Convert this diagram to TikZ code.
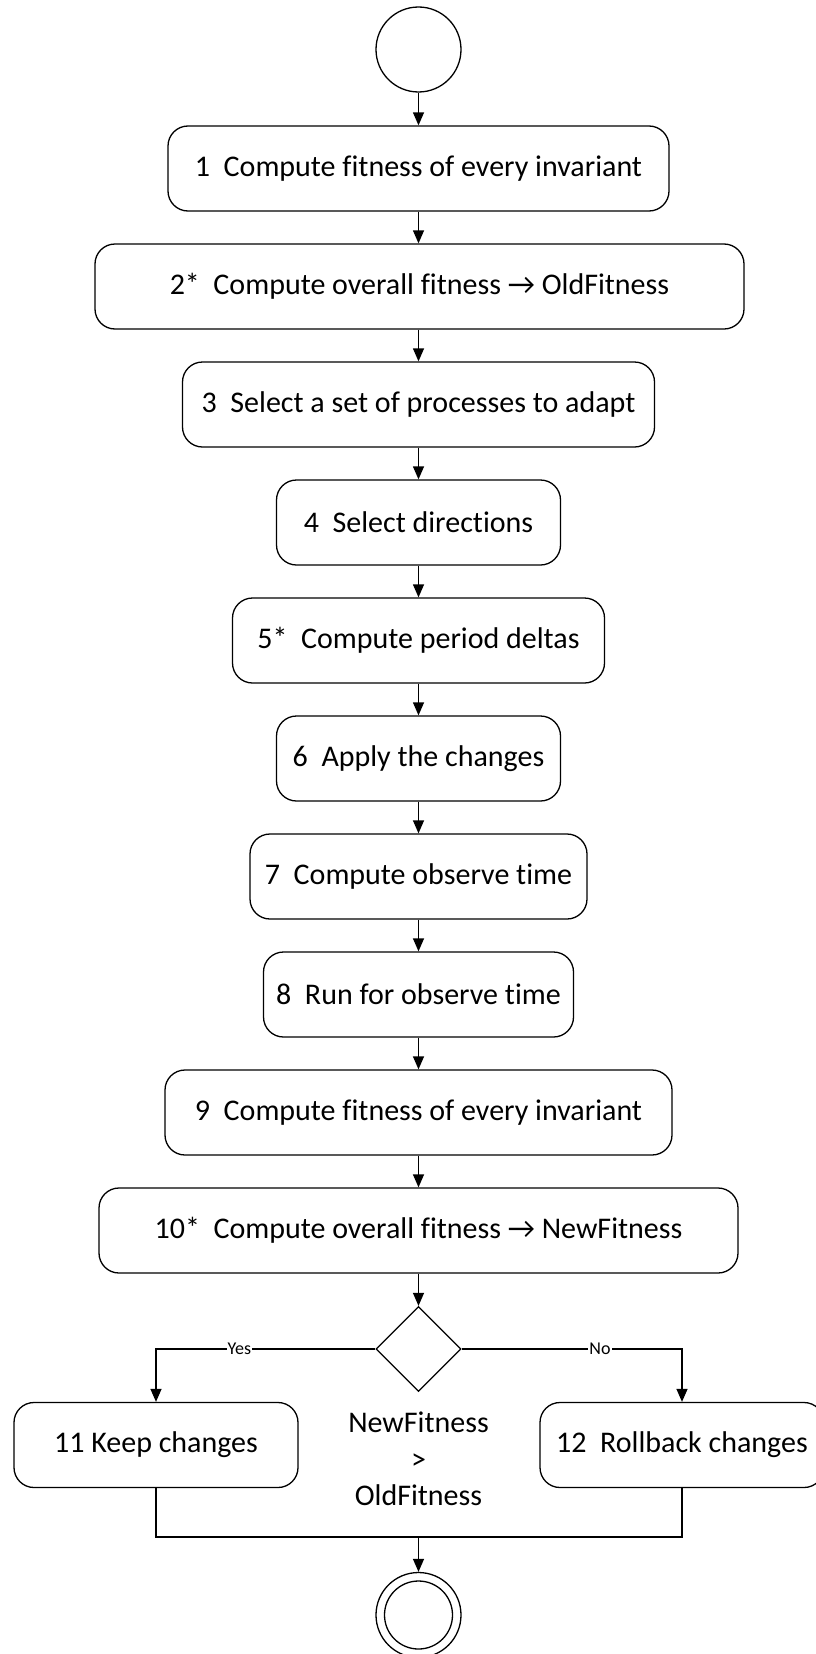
\documentclass[tikz,border=0pt]{standalone}
\usepackage{fontspec}
\setmainfont{Carlito}[RawFeature={-liga;-clig;-calt;-dlig}]
\usetikzlibrary{arrows.meta,shapes.geometric}
\begin{document}
\begin{tikzpicture}[x=1pt,y=-1pt,
  every node/.style={font=\fontsize{30}{36}\selectfont},
  stepbox/.style={draw,line width=1.3pt,rectangle,rounded corners=20pt,
    minimum height=85pt,inner sep=0pt},
  arr/.style={line width=1.3pt,-{Triangle[length=13pt,width=11pt]}},
  line/.style={line width=1.3pt},
  lbl/.style={fill=white,inner sep=1pt,font=\fontsize{18}{20}\selectfont}]
\useasboundingbox (0,0) rectangle (816,1654);
\fill[white] (0,0) rectangle (816,1654);

% start
\node[draw,circle,line width=1.3pt,minimum size=85pt,inner sep=0pt] (start) at (418.5,49.5) {};

% process steps
\node[stepbox,minimum width=501pt] (b1) at (418.5,168.5) {1\ \ Compute fitness of every invariant};
\node[stepbox,minimum width=649pt] (b2) at (419.5,286.5) {2*\ \ Compute overall fitness → OldFitness};
\node[stepbox,minimum width=472pt] (b3) at (418.5,404.5) {3\ \ Select a set of processes to adapt};
\node[stepbox,minimum width=284pt] (b4) at (418.5,522.5) {4\ \ Select directions};
\node[stepbox,minimum width=372pt] (b5) at (418.5,640.5) {5*\ \ Compute period deltas};
\node[stepbox,minimum width=284pt] (b6) at (418.5,758.5) {6\ \ Apply the changes};
\node[stepbox,minimum width=337pt] (b7) at (418.5,876.5) {7\ \ Compute observe time};
\node[stepbox,minimum width=310pt] (b8) at (418.5,994.5) {8\ \ Run for observe time};
\node[stepbox,minimum width=507pt] (b9) at (418.5,1112.5) {9\ \ Compute fitness of every invariant};
\node[stepbox,minimum width=639pt] (b10) at (418.5,1230.5) {10*\ \ Compute overall fitness → NewFitness};

% decision
\node[draw,diamond,line width=1.3pt,minimum width=85pt,minimum height=85pt,inner sep=0pt] (dec) at (418.5,1349) {};
\node[align=center,font=\fontsize{30}{36.5}\selectfont] (cond) at (418.5,1459) {NewFitness\\>\\OldFitness};

\node[stepbox,minimum width=284pt] (b11) at (156,1445) {11 Keep changes};
\node[stepbox,minimum width=284pt] (b12) at (682,1445) {12\ \ Rollback changes};

% end
\node[draw,circle,line width=1.3pt,minimum size=85pt,inner sep=0pt] (stop) at (418.5,1615) {};
\node[draw,circle,line width=1.3pt,minimum size=68pt,inner sep=0pt] (stopin) at (stop.center) {};
\coordinate (merge) at (418.5,1537);

% connectors
\draw[arr] (start) -- (b1);
\draw[arr] (b1) -- (b2.north -| b1);
\draw[arr] (b2.south -| b3) -- (b3);
\draw[arr] (b3) -- (b4);
\draw[arr] (b4) -- (b5);
\draw[arr] (b5) -- (b6);
\draw[arr] (b6) -- (b7);
\draw[arr] (b7) -- (b8);
\draw[arr] (b8) -- (b9);
\draw[arr] (b9) -- (b10);
\draw[arr] (b10) -- (dec);
\draw[arr] (dec.west) -| node[lbl,pos=0.31] {Yes} (b11.north);
\draw[arr] (dec.east) -| node[lbl,pos=0.314] {No} (b12.north);
\draw[line] (b11.south) |- (merge) -| (b12.south);
\draw[arr] (merge) -- (stop);
\end{tikzpicture}
\end{document}
